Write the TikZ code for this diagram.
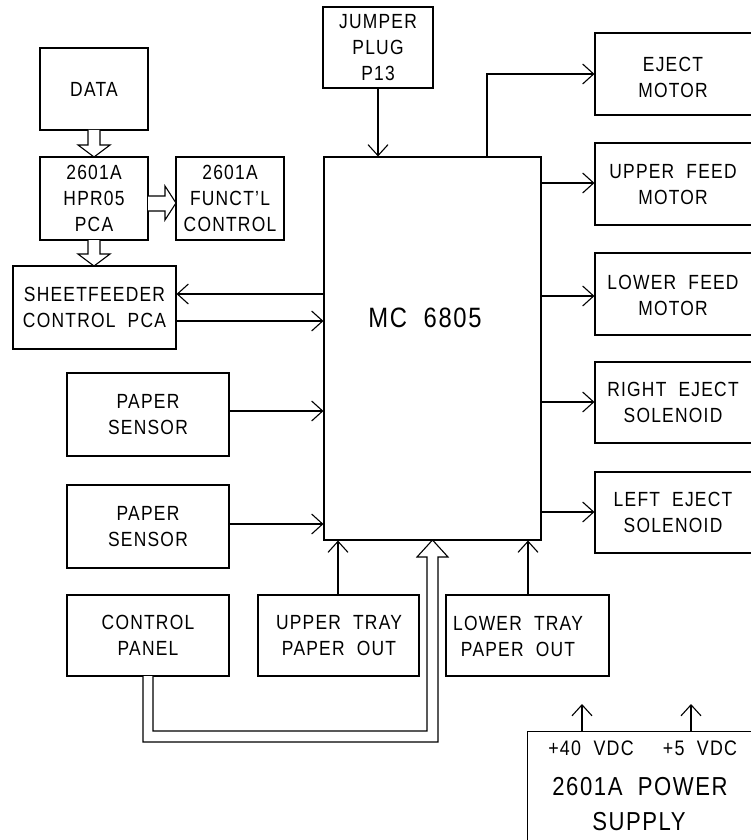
\documentclass[tikz,border=0pt]{standalone}
\usepackage{fontspec}
\setmainfont{Liberation Sans}[FakeStretch=0.85, LetterSpace=6]
\usetikzlibrary{arrows.meta}
\tikzset{
  box/.style={draw, line width=1.1pt, inner sep=0pt, align=center,
    font=\fontsize{20.5}{26}\selectfont},
  lbl/.style={inner sep=0pt, align=center, font=\fontsize{20.5}{26}\selectfont},
  conn/.style={line width=1.1pt, -{Straight Barb[length=11pt,width=20pt,line width=1.1pt]}},
  hollow/.style={draw, line width=1.1pt, fill=white, line join=miter},
}
\begin{document}
\begin{tikzpicture}[x=1pt,y=-1pt]
\useasboundingbox (0,0) rectangle (751,840);
% boxes
\node[box, minimum width=108pt, minimum height=82pt] (data) at (94,89) {DATA};
\node[box, minimum width=108pt, minimum height=83pt] (hpr) at (94,198.5) {2601A\\HPR05\\PCA};
\node[box, minimum width=108pt, minimum height=83pt] (funct) at (230,198.5) {2601A\\FUNCT'L\\CONTROL};
\node[box, minimum width=163pt, minimum height=83pt] (sheet) at (94.5,307.5) {SHEETFEEDER\\CONTROL\ \ PCA};
\node[box, minimum width=110pt, minimum height=81pt] (jumper) at (378,47.5) {JUMPER\\PLUG\\P13};
\node[box, minimum width=217pt, minimum height=383pt] (mc) at (432.5,348.5) {};
\node[lbl, font=\fontsize{28}{32}\selectfont] (mctext) at (425,318) {MC\ \ 6805};
\node[box, minimum width=160pt, minimum height=82pt] (eject) at (675,74) {};
\node[lbl] (ejectt) at (673,77) {EJECT\\MOTOR};
\node[box, minimum width=160pt, minimum height=82pt] (upper) at (675,184) {};
\node[lbl] (uppert) at (673,185) {UPPER\ \ FEED\\MOTOR};
\node[box, minimum width=160pt, minimum height=82pt] (lower) at (675,294) {};
\node[lbl] (lowert) at (673,295) {LOWER\ \ FEED\\MOTOR};
\node[box, minimum width=160pt, minimum height=81pt] (right) at (675,402.5) {};
\node[lbl] (rightt) at (673,402) {RIGHT\ \ EJECT\\SOLENOID};
\node[box, minimum width=160pt, minimum height=81pt] (left) at (675,512.5) {};
\node[lbl] (leftt) at (673,512) {LEFT\ \ EJECT\\SOLENOID};
\node[box, minimum width=162pt, minimum height=83pt] (sens1) at (148,414.5) {PAPER\\SENSOR};
\node[box, minimum width=162pt, minimum height=83pt] (sens2) at (148,526.5) {PAPER\\SENSOR};
\node[box, minimum width=162pt, minimum height=81pt] (ctrl) at (148,635.5) {CONTROL\\PANEL};
\node[box, minimum width=161pt, minimum height=81pt] (uptray) at (338.5,635.5) {};
\node[lbl] (uptrayt) at (339,636) {UPPER\ \ TRAY\\PAPER\ \ OUT};
\node[box, minimum width=163pt, minimum height=81pt] (lowtray) at (527.5,635.5) {};
\node[lbl] (lowtrayt) at (518,636) {LOWER\ \ TRAY\\PAPER\ \ OUT};
\node[box, minimum width=240pt, minimum height=130pt, anchor=north west] (power) at (527,731) {};
\node[lbl, font=\fontsize{21}{24}\selectfont] (v40) at (591,748) {+40\ \ VDC};
\node[lbl, font=\fontsize{21}{24}\selectfont] (v5) at (700,748) {+5\ \ VDC};
\node[lbl, font=\fontsize{26}{30}\selectfont] (pwr1) at (640,787) {2601A\ \ POWER};
\node[lbl, font=\fontsize{26}{30}\selectfont] (pwr2) at (639,822) {SUPPLY};
% simple connectors
\draw[conn] (jumper.south) -- (jumper.south |- mc.north);
\draw[conn] (mc.north -| 487,0) |- (eject.west);
\draw[conn] (mc.east |- 0,183) -- (upper.west |- 0,183);
\draw[conn] (mc.east |- 0,296) -- (lower.west |- 0,296);
\draw[conn] (mc.east |- 0,402) -- (right.west |- 0,402);
\draw[conn] (mc.east |- 0,512) -- (left.west |- 0,512);
\draw[conn] (mc.west |- 0,294) -- (sheet.east |- 0,294);
\draw[conn] (sheet.east |- 0,321) -- (mc.west |- 0,321);
\draw[conn] (sens1.east |- 0,411) -- (mc.west |- 0,411);
\draw[conn] (sens2.east |- 0,524) -- (mc.west |- 0,524);
\draw[conn] (uptray.north -| 338,0) -- (mc.south -| 338,0);
\draw[conn] (lowtray.north -| 528,0) -- (mc.south -| 528,0);
\coordinate (p40) at (582,704);
\coordinate (p5) at (691,704);
\draw[conn] (power.north -| p40) -- (p40);
\draw[conn] (power.north -| p5) -- (p5);
% hollow arrows
\draw[hollow] (88,130) -- (88,145) -- (78,145) -- (94,157) -- (110,145) -- (100,145) -- (100,130);
\draw[hollow] (88,240) -- (88,254) -- (78,254) -- (94,266) -- (110,254) -- (100,254) -- (100,240);
\draw[hollow] (148,196) -- (165,196) -- (165,186) -- (176,203) -- (165,220) -- (165,211) -- (148,211);
\draw[hollow] (143,676) -- (143,742) -- (438,742) -- (438,557) -- (448,557) -- (432.5,540)
  -- (417,557) -- (427,557) -- (427,731) -- (153,731) -- (153,676);
\end{tikzpicture}
\end{document}
